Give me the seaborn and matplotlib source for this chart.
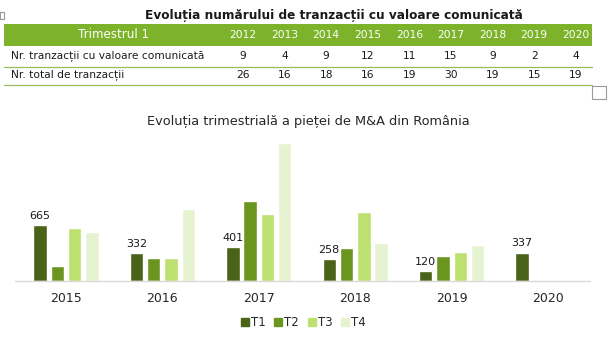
import matplotlib
matplotlib.use("Agg")
import matplotlib.pyplot as plt
from matplotlib.patches import Rectangle
from matplotlib.lines import Line2D
import seaborn as sns
import pandas as pd

# ---- table data ----
table_title = "Evoluția numărului de tranzacții cu valoare comunicată"
table_header = "Trimestrul 1"
table_years = ["2012", "2013", "2014", "2015", "2016", "2017", "2018", "2019", "2020"]
row_labels = ["Nr. tranzacții cu valoare comunicată", "Nr. total de tranzacții"]
deals_with_value = [9, 4, 9, 12, 11, 15, 9, 2, 4]
deals_total = [26, 16, 18, 16, 19, 30, 19, 15, 19]

# ---- chart data ----
chart_title = "Evoluția trimestrială a pieței de M&A din România"
years = ["2015", "2016", "2017", "2018", "2019", "2020"]
quarters = ["T1", "T2", "T3", "T4"]
t1 = [665, 332, 401, 258, 120, 337]
t2 = [178, 273, 950, 392, 297, None]
t3 = [629, 273, 796, 819, 344, None]
t4 = [582, 855, 1639, 451, 428, None]

colors = ["#4B6318", "#6A961F", "#BDE171", "#E6F3D0"]

W, H = 613, 337
fig = plt.figure(figsize=(W / 100, H / 100), dpi=100)
sns.set_style("white")
plt.rcParams["font.family"] = ["DejaVu Sans"]

# overlay axes in pixel coordinates for the table
bg = fig.add_axes([0, 0, 1, 1])
bg.set_xlim(0, W)
bg.set_ylim(H, 0)
bg.axis("off")

txt = "#1a1a1a"
bg.text(334, 15, table_title, ha="center", va="center", fontsize=8.7,
        fontweight="bold", color=txt)
bg.add_patch(Rectangle((4, 24), 588, 22, facecolor="#7DB32A", edgecolor="none"))
bg.text(114, 35, table_header, ha="center", va="center", fontsize=8.6, color="white")
col_x = [243 + 41.6 * i for i in range(len(table_years))]
for x, y in zip(col_x, table_years):
    bg.text(x, 35.5, y, ha="center", va="center", fontsize=7.7, color="white")
for row_y, label, vals in [(56, row_labels[0], deals_with_value),
                           (75, row_labels[1], deals_total)]:
    bg.text(11, row_y, label, ha="left", va="center", fontsize=7.7, color=txt)
    for x, v in zip(col_x, vals):
        bg.text(x, row_y, str(v), ha="center", va="center", fontsize=7.7, color=txt)
for ly in (66.5, 84.5):
    bg.plot([4, 592], [ly, ly], color="#9BBB59", lw=0.9)
# resize handles
bg.add_patch(Rectangle((0, 12), 4, 7, facecolor="white", edgecolor="#9a9a9a", lw=0.8))
bg.add_patch(Rectangle((592, 86), 14, 13, facecolor="white", edgecolor="#9a9a9a", lw=0.8))

# ---- bar chart ----
rows = []
for q, vals in zip(quarters, [t1, t2, t3, t4]):
    for yr, v in zip(years, vals):
        if v is not None:
            rows.append({"An": yr, "Trimestru": q, "Valoare": v})
df = pd.DataFrame(rows)

left_px, right_px, base_px, top_px = 15, 590, 281, 135
ax = fig.add_axes([left_px / W, (H - base_px) / H,
                   (right_px - left_px) / W, (base_px - top_px) / H])
sns.barplot(data=df, x="An", y="Valoare", hue="Trimestru", order=years,
            hue_order=quarters, palette=colors, width=0.718, gap=0.23,
            saturation=1, errorbar=None, ax=ax, legend=False)
step = 96.4
ax.set_xlim((left_px - 66) / step, (right_px - 66) / step)
ax.set_ylim(0, (base_px - top_px) * 11.875)
ax.set_xlabel("")
ax.set_ylabel("")
ax.set_yticks([])
for s in ["top", "right", "left"]:
    ax.spines[s].set_visible(False)
ax.spines["bottom"].set_color("#D9D9D9")
ax.spines["bottom"].set_linewidth(1)
ax.tick_params(axis="x", length=0, pad=8, labelsize=9, labelcolor="#262626")
ax.set_facecolor("none")

ax.bar_label(ax.containers[0], labels=[str(v) for v in t1], padding=3,
             fontsize=8, color="#1a1a1a")

fig.text(308 / W, 1 - 121 / H, chart_title, ha="center", va="center",
         fontsize=9.3, color="#262626")

handles = [Line2D([], [], marker="s", linestyle="none", markersize=5.5,
                  markerfacecolor=c, markeredgecolor=c) for c in colors]
fig.legend(handles, quarters, loc="center", bbox_to_anchor=(303 / W, 1 - 323 / H),
           ncol=4, frameon=False, fontsize=8.5, handletextpad=0.1,
           columnspacing=0.7, handlelength=0.8, labelcolor="#262626")

fig.savefig("out.png", dpi=100, facecolor="white")
